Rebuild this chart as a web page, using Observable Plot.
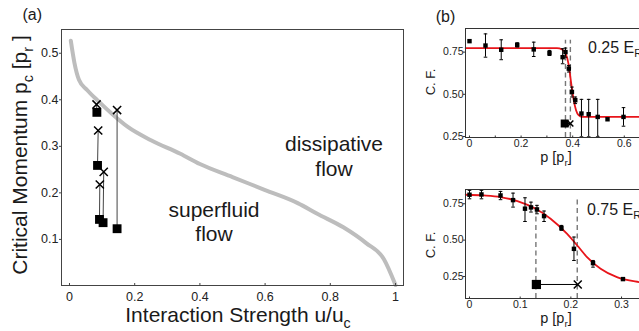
<!DOCTYPE html>
<html><head><meta charset="utf-8">
<script src="https://cdn.jsdelivr.net/npm/d3@7"></script>
<script src="https://cdn.jsdelivr.net/npm/@observablehq/plot@0.6"></script>
<style>
html,body{margin:0;padding:0;background:#fff;overflow:hidden;}
#c{position:relative;width:639px;height:331px;overflow:hidden;background:#fff;font-family:"Liberation Sans",Arial,sans-serif;}
#c svg{position:absolute;}
</style></head>
<body><div id="c"></div>
<script>
// ---------- Panel (a) data ----------
const curveU  = [0.004, 0.015, 0.029, 0.054, 0.09, 0.13, 0.18, 0.25, 0.34, 0.40, 0.50, 0.60, 0.70, 0.76, 0.84, 0.91, 0.964, 1.0];
const curvePc = [0.527, 0.480, 0.443, 0.421, 0.396, 0.370, 0.341, 0.313, 0.284, 0.262, 0.234, 0.206, 0.178, 0.155, 0.126, 0.092, 0.058, 0.002];
const sqU  = [0.084, 0.086, 0.092, 0.103, 0.146];
const sqPc = [0.373, 0.259, 0.143, 0.136, 0.123];
const xU   = [0.083, 0.088, 0.093, 0.105, 0.146];
const xPc  = [0.390, 0.334, 0.218, 0.245, 0.378];
const aTicksX = [0, 0.2, 0.4, 0.6, 0.8, 1];
const aTickLabelsX = ["0", "0.2", "0.4", "0.6", "0.8", "1"];
const aTicksY = [0.1, 0.2, 0.3, 0.4, 0.5];
const aTickLabelsY = ["0.1", "0.2", "0.3", "0.4", "0.5"];

// ---------- Panel (b) top: 0.25 E_R ----------
const tP  = [0, 0.062, 0.123, 0.185, 0.249, 0.310, 0.361, 0.372, 0.385, 0.397, 0.410, 0.434, 0.462, 0.497, 0.535, 0.597];
const tCF = [0.815, 0.789, 0.764, 0.793, 0.766, 0.744, 0.720, 0.750, 0.652, 0.514, 0.465, 0.386, 0.382, 0.366, 0.352, 0.366];
const tLo = [0.815, 0.720, 0.705, 0.780, 0.724, 0.730, 0.681, 0.720, 0.632, 0.484, 0.445, 0.248, 0.248, 0.248, 0.352, 0.311];
const tHi = [0.815, 0.858, 0.823, 0.805, 0.809, 0.760, 0.770, 0.774, 0.671, 0.543, 0.484, 0.470, 0.470, 0.470, 0.352, 0.421];
const tFitP  = [-0.015, 0.339, 0.359, 0.372, 0.385, 0.391, 0.397, 0.404, 0.413, 0.423, 0.436, 0.72];
const tFitCF = [0.774, 0.774, 0.766, 0.744, 0.671, 0.602, 0.533, 0.465, 0.406, 0.376, 0.366, 0.366];
const tDash = [0.372, 0.391];
const tMarkP = [0.369, 0.391];   // square, cross
const tMarkCF = 0.327;
const tTicksX = [0, 0.2, 0.4, 0.6];
const tTickLabelsX = ["0", "0.2", "0.4", "0.6"];
const tMinorX = [0, 0.1, 0.2, 0.3, 0.4, 0.5, 0.6, 0.7];
const bTicksY = [0.25, 0.5, 0.75];
const bTickLabelsY = ["0.25", "0.50", "0.75"];

// ---------- Panel (b) bottom: 0.75 E_R ----------
const bP  = [0, 0.0236, 0.0612, 0.0859, 0.1095, 0.1213, 0.1331, 0.1471, 0.1814, 0.2061, 0.2437, 0.3028];
const bCF = [0.812, 0.814, 0.807, 0.775, 0.716, 0.725, 0.711, 0.665, 0.583, 0.440, 0.342, 0.232];
const bLo = [0.784, 0.784, 0.778, 0.727, 0.628, 0.693, 0.681, 0.628, 0.567, 0.360, 0.314, 0.232];
const bHi = [0.842, 0.842, 0.835, 0.823, 0.791, 0.761, 0.739, 0.700, 0.601, 0.521, 0.360, 0.232];
const bFitP  = [-0.0075, 0.0279, 0.0612, 0.0945, 0.1267, 0.160, 0.1922, 0.2126, 0.2319, 0.2587, 0.2909, 0.335, 0.37];
const bFitCF = [0.812, 0.807, 0.796, 0.768, 0.722, 0.647, 0.544, 0.463, 0.383, 0.303, 0.245, 0.211, 0.195];
const bDash = [0.131, 0.2126];
const bDashTop = [0.74, 0.79];
const bMarkP = [0.132, 0.2136];
const bMarkCF = 0.195;
const bTicksX = [0, 0.1, 0.2, 0.3];
const bTickLabelsX = ["0", "0.1", "0.2", "0.3"];
const bMinorX = [0, 0.1, 0.2, 0.3];

// ---------- helpers ----------
const FONT = "Liberation Sans, Arial, Helvetica, sans-serif";
const container = document.getElementById("c");
function place(svg, left, top) { svg.style.left = left + "px"; svg.style.top = top + "px"; container.appendChild(svg); }
const tickUp = (len) => ({draw(ctx) { ctx.moveTo(0, 0); ctx.lineTo(0, -len); }});
const capSym = (w) => ({draw(ctx) { ctx.moveTo(-w, 0); ctx.lineTo(w, 0); }});
const fmt = (ticks, labels) => (d) => labels[ticks.indexOf(d)];

// ---------- Panel (a) ----------
const curveData = curveU.map((u, i) => ({u, pc: curvePc[i]}));
const pairs = sqU.map((u, i) => ({u1: u, p1: sqPc[i], u2: xU[i], p2: xPc[i]}));
const plotA = Plot.plot({
  width: 410, height: 310, marginLeft: 61, marginRight: 7, marginTop: 29, marginBottom: 25,
  x: {domain: [-0.0245, 1.0245]},
  y: {domain: [0.001, 0.551]},
  style: {fontFamily: FONT, fontSize: "12px", color: "#222", background: "transparent", overflow: "visible"},
  marks: [
    Plot.line(curveData, {x: "u", y: "pc", stroke: "#bdbdbd", strokeWidth: 4, curve: "monotone-x"}),
    Plot.link(pairs, {x1: "u1", y1: "p1", x2: "u2", y2: "p2", stroke: "#444", strokeWidth: 1}),
    Plot.dot(pairs, {x: "u1", y: "p1", symbol: "square", r: 5, fill: "#000"}),
    Plot.dot(pairs, {x: "u2", y: "p2", symbol: "times", r: 3.8, stroke: "#000", strokeWidth: 1.5}),
    Plot.frame({stroke: "#444", strokeWidth: 1}),
    Plot.axisX({ticks: aTicksX, tickFormat: fmt(aTicksX, aTickLabelsX), tickSize: 0, tickPadding: 7, fontSize: 12.5, label: null}),
    Plot.dot(aTicksX, {x: d => d, frameAnchor: "bottom", symbol: tickUp(2.5), stroke: "#444", strokeWidth: 1}),
    Plot.axisY({ticks: aTicksY, tickFormat: fmt(aTicksY, aTickLabelsY), tickSize: 2, tickPadding: 1, fontSize: 12.5, label: null, stroke: "#444"})
  ]
});
place(plotA, 0, 0);

// ---------- Panel (b) generic ----------
function panelB(o) {
  const pts = o.p.map((p, i) => ({p, cf: o.cf[i], lo: o.lo[i], hi: o.hi[i]}));
  const bars = pts.filter(d => d.hi - d.lo > 0.001);
  const fit = o.fitP.map((p, i) => ({p, cf: o.fitCF[i]}));
  const dashes = o.dash.map((p, i) => ({p, top: o.dashTop[i]}));
  const mk = [{p1: o.markP[0], p2: o.markP[1], cf: o.markCF}];
  return Plot.plot({
    width: 260, height: o.height, marginLeft: 65, marginRight: 5, marginTop: o.mt, marginBottom: o.mb,
    x: {domain: o.xd}, y: {domain: o.yd},
    style: {fontFamily: FONT, fontSize: "11px", color: "#222", background: "transparent"},
    marks: [
      Plot.ruleX(dashes, {x: "p", y1: o.yd[0], y2: "top", stroke: "#777", strokeWidth: 1.4, strokeDasharray: "5,3.5"}),
      Plot.line(fit, {x: "p", y: "cf", stroke: "#e8141a", strokeWidth: 1.8, curve: "monotone-x"}),
      Plot.ruleX(bars, {x: "p", y1: "lo", y2: "hi", stroke: "#000", strokeWidth: 1}),
      Plot.dot(bars, {x: "p", y: "lo", symbol: capSym(1.8), stroke: "#000", strokeWidth: 1}),
      Plot.dot(bars, {x: "p", y: "hi", symbol: capSym(1.8), stroke: "#000", strokeWidth: 1}),
      Plot.dot(pts, {x: "p", y: "cf", symbol: "square", r: 2.5, fill: "#000"}),
      Plot.link(mk, {x1: "p1", x2: "p2", y1: "cf", y2: "cf", stroke: "#000", strokeWidth: 1}),
      Plot.dot(mk, {x: "p1", y: "cf", symbol: "square", r: o.sqR, fill: "#000"}),
      Plot.dot(mk, {x: "p2", y: "cf", symbol: "times", r: o.xR, stroke: "#000", strokeWidth: 1.5}),
      Plot.frame({stroke: "#333", strokeWidth: 1}),
      Plot.axisX({ticks: o.ticksX, tickFormat: fmt(o.ticksX, o.labelsX), tickSize: 0, tickPadding: o.tp, fontSize: 10.5, label: null}),
      Plot.dot(o.minorX, {x: d => d, frameAnchor: "bottom", symbol: tickUp(2), stroke: "#333", strokeWidth: 1}),
      Plot.axisY({ticks: bTicksY, tickFormat: fmt(bTicksY, bTickLabelsY), tickSize: 2, tickPadding: 0, fontSize: 10.5, label: null, stroke: "#333"})
    ]
  });
}
place(panelB({height: 165, mt: 28, mb: 28, xd: [-0.0155, 0.721], yd: [0.244, 0.89],
  p: tP, cf: tCF, lo: tLo, hi: tHi, fitP: tFitP, fitCF: tFitCF, dash: tDash, dashTop: [0.82, 0.82],
  markP: tMarkP, markCF: tMarkCF, sqR: 4.5, xR: 2.8, ticksX: tTicksX, labelsX: tTickLabelsX, minorX: tMinorX, tp: 2}), 400, 0);
place(panelB({height: 166, mt: 24, mb: 33, xd: [-0.0079, 0.367], yd: [0.0986, 0.848],
  p: bP, cf: bCF, lo: bLo, hi: bHi, fitP: bFitP, fitCF: bFitCF, dash: bDash, dashTop: bDashTop,
  markP: bMarkP, markCF: bMarkCF, sqR: 5.2, xR: 3.7, ticksX: bTicksX, labelsX: bTickLabelsX, minorX: bMinorX, tp: 2}), 400, 165);

// ---------- Text overlay ----------
const overlay = d3.select(container).append("svg")
  .attr("width", 639).attr("height", 331).style("left", "0px").style("top", "0px")
  .attr("font-family", FONT).style("white-space", "pre");
function addText(x, y, parts, size, anchor = "start", rotate = 0) {
  const t = overlay.append("text").attr("transform", `translate(${x},${y}) rotate(${rotate})`)
    .attr("text-anchor", anchor).attr("font-size", size).attr("fill", "#1a1a1a");
  let shifted = false;
  for (const part of parts) {
    const [s, sub] = typeof part === "string" ? [part, false] : part;
    const ts = t.append("tspan").text(s);
    if (sub) { ts.attr("font-size", size * 0.68); if (!shifted) { ts.attr("dy", size * 0.28); shifted = true; } }
    else if (shifted) { ts.attr("dy", -size * 0.28); shifted = false; }
  }
}
addText(22.5, 20, ["(a)"], 16);
addText(27, 155, ["Critical Momentum p", ["c", 1], " [p", ["r", 1], " ]"], 21, "middle", -90);
addText(238, 322, ["Interaction Strength u/u", ["c", 1]], 21, "middle");
addText(334, 151, ["dissipative"], 21, "middle");
addText(334, 176, ["flow"], 21, "middle");
addText(214, 217, ["superfluid"], 21, "middle");
addText(214, 241, ["flow"], 21, "middle");
addText(445.5, 21.5, ["(b)"], 16, "middle");
addText(435, 82, ["C. F."], 13, "middle", -90);
addText(435, 245, ["C. F."], 13, "middle", -90);
addText(556, 161.5, ["p [p", ["r", 1], "]"], 14.5, "middle");
addText(556, 322.5, ["p [p", ["r", 1], "]"], 14.5, "middle");
addText(588, 53, ["0.25 E", ["R", 1]], 16);
addText(587, 215, ["0.75 E", ["R", 1]], 16);
</script>
</body></html>
